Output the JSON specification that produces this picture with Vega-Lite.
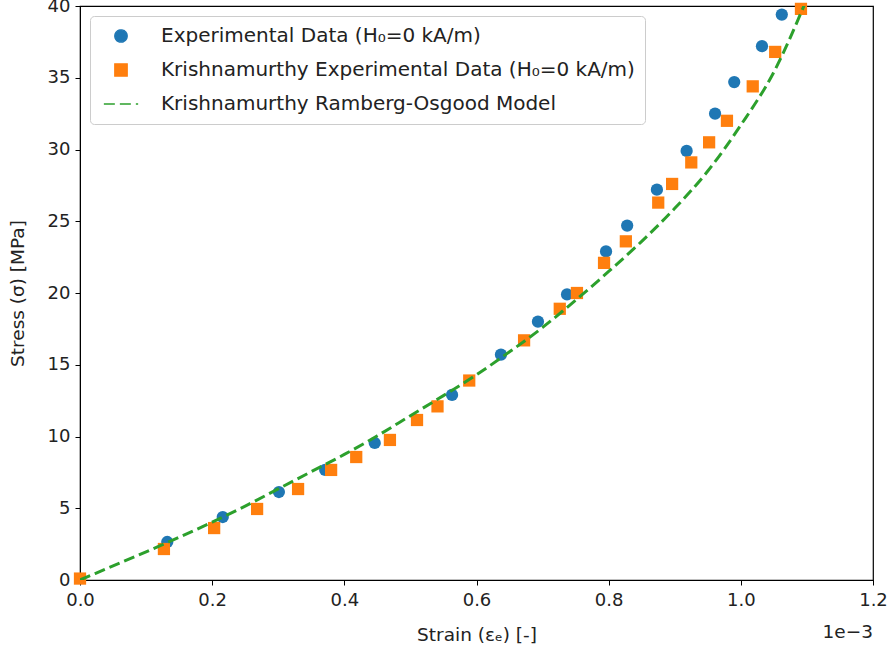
{
  "$schema": "https://vega.github.io/schema/vega-lite/v6.json",
  "width": 793,
  "height": 574,
  "autosize": {"type": "none"},
  "padding": {"left": 80, "top": 6, "right": 18, "bottom": 74},
  "background": "white",
  "config": {
    "font": "DejaVu Sans",
    "view": {"stroke": "black", "strokeWidth": 1.2},
    "axis": {
      "grid": false,
      "domainColor": "black",
      "tickColor": "black",
      "tickSize": 5,
      "labelFontSize": 18,
      "labelColor": "#222",
      "labelFlush": false,
      "titleFontSize": 18.5,
      "titleFontWeight": "normal",
      "titleColor": "#222"
    }
  },
  "datasets": {
    "pts": [
      {"series": "Experimental Data (H₀=0 kA/m)", "strain": 0.132, "stress": 2.65},
      {"series": "Experimental Data (H₀=0 kA/m)", "strain": 0.216, "stress": 4.39},
      {"series": "Experimental Data (H₀=0 kA/m)", "strain": 0.301, "stress": 6.13},
      {"series": "Experimental Data (H₀=0 kA/m)", "strain": 0.371, "stress": 7.67},
      {"series": "Experimental Data (H₀=0 kA/m)", "strain": 0.446, "stress": 9.55},
      {"series": "Experimental Data (H₀=0 kA/m)", "strain": 0.563, "stress": 12.9},
      {"series": "Experimental Data (H₀=0 kA/m)", "strain": 0.637, "stress": 15.7},
      {"series": "Experimental Data (H₀=0 kA/m)", "strain": 0.693, "stress": 18.0},
      {"series": "Experimental Data (H₀=0 kA/m)", "strain": 0.737, "stress": 19.9},
      {"series": "Experimental Data (H₀=0 kA/m)", "strain": 0.796, "stress": 22.9},
      {"series": "Experimental Data (H₀=0 kA/m)", "strain": 0.828, "stress": 24.7},
      {"series": "Experimental Data (H₀=0 kA/m)", "strain": 0.873, "stress": 27.2},
      {"series": "Experimental Data (H₀=0 kA/m)", "strain": 0.918, "stress": 29.9},
      {"series": "Experimental Data (H₀=0 kA/m)", "strain": 0.961, "stress": 32.5},
      {"series": "Experimental Data (H₀=0 kA/m)", "strain": 0.990, "stress": 34.7},
      {"series": "Experimental Data (H₀=0 kA/m)", "strain": 1.032, "stress": 37.2},
      {"series": "Experimental Data (H₀=0 kA/m)", "strain": 1.062, "stress": 39.4},
      {"series": "Krishnamurthy Experimental Data (H₀=0 kA/m)", "strain": 0.0, "stress": 0.1},
      {"series": "Krishnamurthy Experimental Data (H₀=0 kA/m)", "strain": 0.127, "stress": 2.16},
      {"series": "Krishnamurthy Experimental Data (H₀=0 kA/m)", "strain": 0.203, "stress": 3.62},
      {"series": "Krishnamurthy Experimental Data (H₀=0 kA/m)", "strain": 0.268, "stress": 4.95},
      {"series": "Krishnamurthy Experimental Data (H₀=0 kA/m)", "strain": 0.330, "stress": 6.34},
      {"series": "Krishnamurthy Experimental Data (H₀=0 kA/m)", "strain": 0.380, "stress": 7.67},
      {"series": "Krishnamurthy Experimental Data (H₀=0 kA/m)", "strain": 0.418, "stress": 8.57},
      {"series": "Krishnamurthy Experimental Data (H₀=0 kA/m)", "strain": 0.469, "stress": 9.76},
      {"series": "Krishnamurthy Experimental Data (H₀=0 kA/m)", "strain": 0.510, "stress": 11.15},
      {"series": "Krishnamurthy Experimental Data (H₀=0 kA/m)", "strain": 0.541, "stress": 12.1},
      {"series": "Krishnamurthy Experimental Data (H₀=0 kA/m)", "strain": 0.589, "stress": 13.9},
      {"series": "Krishnamurthy Experimental Data (H₀=0 kA/m)", "strain": 0.672, "stress": 16.7},
      {"series": "Krishnamurthy Experimental Data (H₀=0 kA/m)", "strain": 0.726, "stress": 18.9},
      {"series": "Krishnamurthy Experimental Data (H₀=0 kA/m)", "strain": 0.752, "stress": 20.0},
      {"series": "Krishnamurthy Experimental Data (H₀=0 kA/m)", "strain": 0.793, "stress": 22.1},
      {"series": "Krishnamurthy Experimental Data (H₀=0 kA/m)", "strain": 0.826, "stress": 23.6},
      {"series": "Krishnamurthy Experimental Data (H₀=0 kA/m)", "strain": 0.875, "stress": 26.3},
      {"series": "Krishnamurthy Experimental Data (H₀=0 kA/m)", "strain": 0.896, "stress": 27.6},
      {"series": "Krishnamurthy Experimental Data (H₀=0 kA/m)", "strain": 0.925, "stress": 29.1},
      {"series": "Krishnamurthy Experimental Data (H₀=0 kA/m)", "strain": 0.952, "stress": 30.5},
      {"series": "Krishnamurthy Experimental Data (H₀=0 kA/m)", "strain": 0.979, "stress": 32.0},
      {"series": "Krishnamurthy Experimental Data (H₀=0 kA/m)", "strain": 1.018, "stress": 34.4},
      {"series": "Krishnamurthy Experimental Data (H₀=0 kA/m)", "strain": 1.052, "stress": 36.8},
      {"series": "Krishnamurthy Experimental Data (H₀=0 kA/m)", "strain": 1.091, "stress": 39.8}
    ],
    "model": [
      {"series": "Krishnamurthy Ramberg-Osgood Model", "strain": 0.0, "stress": 0.0},
      {"series": "Krishnamurthy Ramberg-Osgood Model", "strain": 0.05, "stress": 0.98},
      {"series": "Krishnamurthy Ramberg-Osgood Model", "strain": 0.1, "stress": 1.96},
      {"series": "Krishnamurthy Ramberg-Osgood Model", "strain": 0.15, "stress": 2.98},
      {"series": "Krishnamurthy Ramberg-Osgood Model", "strain": 0.2, "stress": 4.03},
      {"series": "Krishnamurthy Ramberg-Osgood Model", "strain": 0.25, "stress": 5.15},
      {"series": "Krishnamurthy Ramberg-Osgood Model", "strain": 0.3, "stress": 6.35},
      {"series": "Krishnamurthy Ramberg-Osgood Model", "strain": 0.35, "stress": 7.55},
      {"series": "Krishnamurthy Ramberg-Osgood Model", "strain": 0.4, "stress": 8.75},
      {"series": "Krishnamurthy Ramberg-Osgood Model", "strain": 0.45, "stress": 10.05},
      {"series": "Krishnamurthy Ramberg-Osgood Model", "strain": 0.5, "stress": 11.45},
      {"series": "Krishnamurthy Ramberg-Osgood Model", "strain": 0.55, "stress": 12.85},
      {"series": "Krishnamurthy Ramberg-Osgood Model", "strain": 0.6, "stress": 14.3},
      {"series": "Krishnamurthy Ramberg-Osgood Model", "strain": 0.65, "stress": 15.9},
      {"series": "Krishnamurthy Ramberg-Osgood Model", "strain": 0.7, "stress": 17.6},
      {"series": "Krishnamurthy Ramberg-Osgood Model", "strain": 0.75, "stress": 19.5},
      {"series": "Krishnamurthy Ramberg-Osgood Model", "strain": 0.8, "stress": 21.5},
      {"series": "Krishnamurthy Ramberg-Osgood Model", "strain": 0.85, "stress": 23.6},
      {"series": "Krishnamurthy Ramberg-Osgood Model", "strain": 0.9, "stress": 25.9},
      {"series": "Krishnamurthy Ramberg-Osgood Model", "strain": 0.95, "stress": 28.5},
      {"series": "Krishnamurthy Ramberg-Osgood Model", "strain": 1.0, "stress": 31.7},
      {"series": "Krishnamurthy Ramberg-Osgood Model", "strain": 1.05, "stress": 35.4},
      {"series": "Krishnamurthy Ramberg-Osgood Model", "strain": 1.1, "stress": 40.5}
    ]
  },
  "layer": [
    {
      "data": {"name": "pts"},
      "mark": {"type": "point", "filled": true, "opacity": 1, "size": 150, "strokeWidth": 0},
      "encoding": {
        "x": {"field": "strain", "type": "quantitative", "scale": {"domain": [0, 1.2], "nice": false, "zero": false, "padding": 0},
              "axis": {"title": "Strain (εₑ) [-]", "values": [0, 0.2, 0.4, 0.6, 0.8, 1.0, 1.2], "format": ".1f", "titlePadding": 16, "labelPadding": 6}},
        "y": {"field": "stress", "type": "quantitative", "scale": {"domain": [0, 40], "nice": false, "padding": 0},
              "axis": {"title": "Stress (σ) [MPa]", "values": [0, 5, 10, 15, 20, 25, 30, 35, 40], "titlePadding": 20, "labelPadding": 5}},
        "color": {"field": "series", "type": "nominal",
          "scale": {"domain": ["Experimental Data (H₀=0 kA/m)", "Krishnamurthy Experimental Data (H₀=0 kA/m)", "Krishnamurthy Ramberg-Osgood Model"],
                    "range": ["#1f77b4", "#ff7f0e", "#2ca02c"]},
          "legend": {
            "title": null,
            "orient": "top-left",
            "offset": 10,
            "labelFontSize": 20,
            "labelColor": "#222",
            "labelLimit": 700,
            "symbolSize": 150,
            "symbolOffset": 11,
            "labelOffset": 30,
            "rowPadding": 14,
            "padding": 10,
            "fillColor": "white",
            "strokeColor": "#cccccc",
            "cornerRadius": 4,
            "encode": {
              "symbols": {"update": {
                "fill": {"signal": "datum.value === 'Krishnamurthy Ramberg-Osgood Model' ? 'transparent' : scale('color', datum.value)"},
                "stroke": {"signal": "scale('color', datum.value)"},
                "strokeWidth": {"signal": "datum.value === 'Krishnamurthy Ramberg-Osgood Model' ? 3 : 0"},
                "opacity": {"value": 1}
              }}
            }
          }
        },
        "shape": {"field": "series", "type": "nominal",
          "scale": {"domain": ["Experimental Data (H₀=0 kA/m)", "Krishnamurthy Experimental Data (H₀=0 kA/m)", "Krishnamurthy Ramberg-Osgood Model"],
                    "range": ["circle", "square", "M-2.8,0H2.8"]},
          "legend": {"title": null}}
      }
    },
    {
      "data": {"name": "model"},
      "mark": {"type": "line", "strokeWidth": 3, "interpolate": "monotone", "clip": true},
      "encoding": {
        "x": {"field": "strain", "type": "quantitative", "scale": {"domain": [0, 1.2], "nice": false, "zero": false, "padding": 0}},
        "y": {"field": "stress", "type": "quantitative", "scale": {"domain": [0, 40], "nice": false, "padding": 0}},
        "color": {"field": "series", "type": "nominal"},
        "strokeDash": {"field": "series", "type": "nominal",
          "scale": {"domain": ["Experimental Data (H₀=0 kA/m)", "Krishnamurthy Experimental Data (H₀=0 kA/m)", "Krishnamurthy Ramberg-Osgood Model"],
                    "range": [[1, 0], [1, 0], [11, 5]]},
          "legend": {"title": null}}
      }
    },
    {
      "data": {"values": [{"label": "1e−3"}]},
      "mark": {"type": "text", "align": "right", "baseline": "middle", "dy": 52, "fontSize": 18.5, "color": "#222"},
      "encoding": {
        "x": {"datum": 1.2, "type": "quantitative"},
        "y": {"datum": 0, "type": "quantitative"},
        "text": {"field": "label"}
      }
    }
  ]
}
